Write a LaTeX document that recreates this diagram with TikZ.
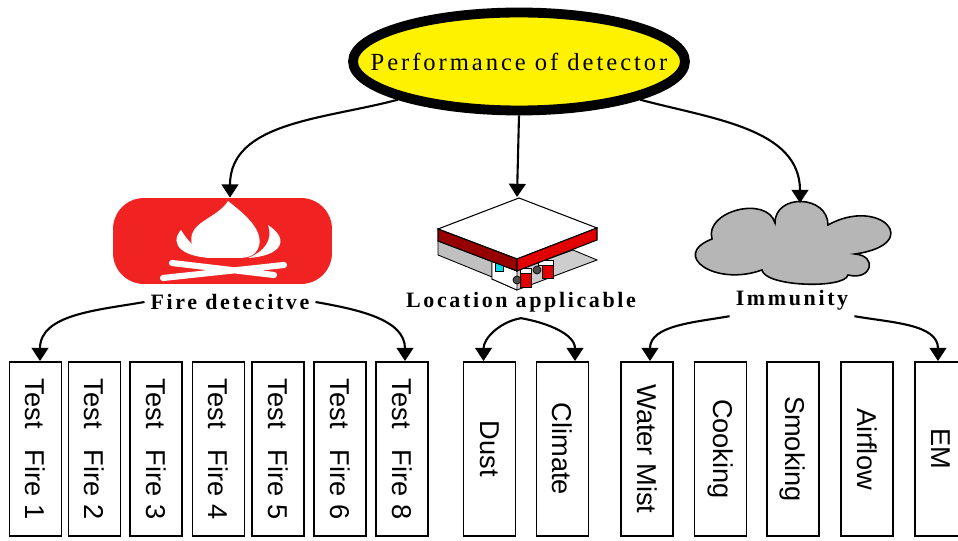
\documentclass[tikz,border=0pt]{standalone}
\usepackage{fontspec}
\usepackage{graphicx}
\setmainfont{Liberation Serif}
\setsansfont{Liberation Sans}
\newfontfamily\spacedfont[LetterSpace=12]{Liberation Serif}
\usetikzlibrary{shapes.geometric,arrows.meta}

\definecolor{flamered}{RGB}{240,34,34}
\definecolor{bandred}{RGB}{225,0,0}
\definecolor{banddark}{RGB}{150,0,0}
\definecolor{wallgray}{RGB}{192,192,192}
\definecolor{floorgray}{RGB}{205,205,205}
\definecolor{cloudgray}{RGB}{182,182,182}
\definecolor{glass}{RGB}{0,220,230}

\tikzset{
  arr/.style={line width=1.2pt,-{Triangle[width=9.5pt,length=7.5pt]}},
  factor/.style={draw,line width=1.1pt,minimum width=1.04cm,minimum height=3.48cm,
    inner sep=0pt,font=\sffamily\fontsize{15.5}{15.5}\selectfont},
  caption/.style={font=\spacedfont\bfseries\fontsize{12.5}{14}\selectfont},
  flame/.style={fill=white,draw=none}
}

\begin{document}
\begin{tikzpicture}[x=0.02cm,y=0.02cm]
  \useasboundingbox (0,0) rectangle (958,541);

  % top node
  \node[ellipse,draw,line width=5.6pt,fill=yellow,minimum width=6.64cm,
    minimum height=1.96cm,inner sep=0pt] (perf) at (519,479.5) {};
  \node[font=\spacedfont\fontsize{14}{16}\selectfont] (perftext) at (perf)
    {Performance of detector};

  % fire icon
  \node[fill=flamered,rounded corners=0.62cm,minimum width=4.38cm,
    minimum height=1.72cm] (fireicon) at (222.5,300) {};
  \fill[flame] (228,340) .. controls (246,326) and (263,311) .. (259,295)
    .. controls (256,285) and (248,283) .. (238,283) -- (208,283)
    .. controls (195,285) and (189,296) .. (192,307)
    .. controls (196,320) and (220,326) .. (228,340);
  \fill[flame] (181,311) .. controls (168,296) and (184,283) .. (215,283)
    .. controls (199,288) and (189,298) .. (181,311);
  \fill[flame] (268,316) .. controls (291,301) and (281,285) .. (248,283)
    .. controls (265,290) and (273,301) .. (268,316);
  \draw[white,line width=3.5pt,line cap=round]
    (163,263) -- (284,276)
    (172,278) -- (274,266);
  \node[caption] (firelbl) at (230,239) {Fire detecitve};

  % station icon
  \filldraw[fill=floorgray,line width=0.5pt] (492,262) -- (517,251) -- (597,281) -- (573,291) -- cycle;
  \filldraw[fill=wallgray,line width=0.5pt] (438,300) -- (438,286) -- (492,264) -- (492,279.5) -- cycle;
  \filldraw[fill=white,line width=0.5pt] (492,279.5) -- (492,262) -- (517,251) -- (517,270) -- cycle;
  \filldraw[fill=glass,line width=0.4pt] (495,270) rectangle (503,278);
  \filldraw[fill=bandred,line width=0.4pt] (520,254) rectangle (531,268);
  \filldraw[fill=white,line width=0.4pt] (520,268) rectangle (531,273);
  \filldraw[fill=bandred,line width=0.4pt] (542,263) rectangle (553,276);
  \filldraw[fill=white,line width=0.4pt] (538,276) rectangle (553,281);
  \filldraw[fill=black!70] (517,261) circle (4);
  \filldraw[fill=black!70] (537,271) circle (4);
  \filldraw[fill=white,line width=0.6pt] (519,343) -- (597,313) -- (517,282) -- (438,312) -- cycle;
  \filldraw[fill=banddark,line width=0.6pt] (438,312) -- (517,282) -- (517,270) -- (438,300) -- cycle;
  \filldraw[fill=bandred,line width=0.6pt] (517,282) -- (597,313) -- (597,301) -- (517,270) -- cycle;
  \coordinate (station) at (517,344);
  \node[caption] (loclbl) at (521,239) {Location applicable};

  % immunity icon
  \filldraw[fill=cloudgray,line width=0.9pt] (712,302)
    .. controls (704,330) and (767,346) .. (775,318)
    .. controls (775,348) and (828,346) .. (828,316)
    .. controls (880,345) and (925,297) .. (855,287)
    .. controls (878,285) and (872,260) .. (848,266)
    .. controls (845,252) and (765,254) .. (762,271)
    .. controls (715,254) and (670,286) .. (712,302) -- cycle;
  \coordinate (cloud) at (800,338);
  \node[caption] (immlbl) at (792,241) {Immunity};

  % bottom row
  \foreach \n/\x/\t in {1/35.5/1,2/94.5/2,3/156/3,4/218.5/4,5/278/5,6/340/6,7/402/8}
    \node[factor] (fire\n) at (\x,92) {\rotatebox{-90}{Test\enspace\ Fire \t}};
  \node[factor] (dust) at (489.5,92) {\rotatebox{-90}{Dust}};
  \node[factor] (climate) at (562.5,92) {\rotatebox{-90}{Climate}};
  \node[factor] (water) at (647,92) {\rotatebox{-90}{Water Mist}};
  \node[factor] (cooking) at (720.5,92) {\rotatebox{-90}{Cooking}};
  \node[factor] (smoking) at (793,92) {\rotatebox{-90}{Smoking}};
  \node[factor] (airflow) at (867,92) {\rotatebox{-90}{Airflow}};
  \node[factor] (emi) at (941,92) {\rotatebox{-90}{EM}};

  % connectors
  \draw[arr] (perf.south west) to[out=195,in=90] ([xshift=0.15cm]fireicon.north);
  \draw[arr] (perf.south) -- (station);
  \draw[arr] (perf.south east) to[out=-15,in=90] (cloud);

  \draw[arr] (firelbl.west) to[out=190,in=90] ([xshift=0.09cm]fire1.north);
  \draw[arr] (firelbl.east) to[out=-10,in=90] ([xshift=0.06cm]fire7.north);
  \draw[arr] (loclbl.south) to[out=190,in=90] ([xshift=-0.12cm]dust.north);
  \draw[arr] (loclbl.south) to[out=-10,in=90] ([xshift=0.25cm]climate.north);
  \draw[arr] (immlbl.south west) to[out=190,in=90] ([xshift=0.06cm]water.north);
  \draw[arr] (immlbl.south east) to[out=-10,in=90] ([xshift=-0.06cm]emi.north);
\end{tikzpicture}
\end{document}
